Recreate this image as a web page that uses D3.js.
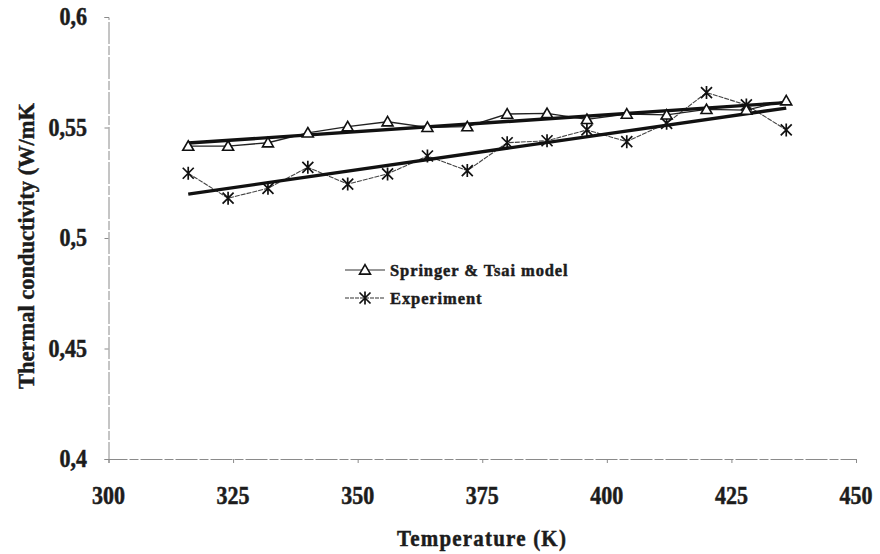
<!DOCTYPE html>
<html>
<head>
<meta charset="utf-8">
<script src="https://cdn.jsdelivr.net/npm/d3@7"></script>
<style>
  html, body { margin: 0; padding: 0; background: #fff; }
  svg { display: block; }
  text { font-family: "Liberation Serif", "Times New Roman", serif; font-weight: bold; fill: #1c1c1c;
         stroke: #1c1c1c; stroke-width: 0.45px; }
</style>
</head>
<body>
<svg id="chart" width="880" height="554"></svg>
<script>
// Temperature points (K)
const temperature = [316, 324, 332, 340, 348, 356, 364, 372, 380, 388, 396, 404, 412, 420, 428, 436];
// Springer & Tsai model prediction (W/mK)
const modelValues = [0.5416, 0.5416, 0.5431, 0.5476, 0.5504, 0.5526, 0.5501, 0.5504,
                     0.5561, 0.5564, 0.5537, 0.5561, 0.5557, 0.5582, 0.5579, 0.5621];
// Measured conductivity (W/mK)
const experimentValues = [0.5293, 0.5180, 0.5225, 0.5320, 0.5244, 0.5290, 0.5371, 0.5305,
                          0.5431, 0.5440, 0.5489, 0.5436, 0.5519, 0.5658, 0.5602, 0.5489];
const xTicks = [300, 325, 350, 375, 400, 425, 450];
const yTicks = [0.4, 0.45, 0.5, 0.55, 0.6];
const seriesNames = ["Springer & Tsai model", "Experiment"];

const svg = d3.select("#chart");
const x = d3.scaleLinear().domain([300, 450]).range([108.5, 856]);
const y = d3.scaleLinear().domain([0.4, 0.6]).range([459, 17]);
const fmt = v => String(v).replace(".", ",");

// axes
const axisColor = "#8a8a8a";
const gx = svg.append("g").attr("transform", `translate(0,${y(0.4)})`)
  .call(d3.axisBottom(x).tickValues(xTicks).tickSize(4).tickFormat(""));
const gy = svg.append("g").attr("transform", `translate(${x(300)},0)`)
  .call(d3.axisLeft(y).tickValues(yTicks).tickSize(4).tickFormat(""));
[gx, gy].forEach(g => {
  g.select(".domain").attr("stroke", axisColor).attr("stroke-width", 1).attr("stroke-dasharray", "22,2,9,2");
  g.selectAll(".tick line").attr("stroke", axisColor);
});

// tick labels (slightly tall serif figures)
svg.append("g").selectAll("text").data(xTicks).join("text")
  .attr("transform", d => `translate(${x(d)},504) scale(1,1.1)`)
  .attr("text-anchor", "middle").attr("font-size", 22)
  .text(d => d);
svg.append("g").selectAll("text").data(yTicks).join("text")
  .attr("transform", d => `translate(87,${y(d) + 8}) scale(1,1.1)`)
  .attr("text-anchor", "end").attr("font-size", 22)
  .text(d => fmt(d));

// axis titles
svg.append("text").attr("transform", "translate(482,546) scale(1,1.08)")
  .attr("text-anchor", "middle").attr("font-size", 21).attr("letter-spacing", 1.2)
  .text("Temperature (K)");
svg.append("text").attr("transform", "translate(34,246) rotate(-90)")
  .attr("text-anchor", "middle").attr("font-size", 22.5)
  .text("Thermal conductivity (W/mK");

// least-squares trend line
function trend(xs, ys) {
  const mx = d3.mean(xs), my = d3.mean(ys);
  const b = d3.sum(xs, (v, i) => (v - mx) * (ys[i] - my)) / d3.sum(xs, v => (v - mx) ** 2);
  const a = my - b * mx;
  const x0 = d3.min(xs), x1 = d3.max(xs);
  return [[x0, a + b * x0], [x1, a + b * x1]];
}

const line = d3.line().x(d => x(d[0])).y(d => y(d[1]));
const modelPts = temperature.map((t, i) => [t, modelValues[i]]);
const expPts = temperature.map((t, i) => [t, experimentValues[i]]);

// data lines
svg.append("path").datum(expPts).attr("d", line)
  .attr("fill", "none").attr("stroke", "#444").attr("stroke-width", 1.1).attr("stroke-dasharray", "5,1");
svg.append("path").datum(modelPts).attr("d", line)
  .attr("fill", "none").attr("stroke", "#222").attr("stroke-width", 1.3);

// trend lines
[trend(temperature, modelValues), trend(temperature, experimentValues)].forEach(seg => {
  svg.append("path").datum(seg).attr("d", line)
    .attr("fill", "none").attr("stroke", "#111").attr("stroke-width", 3.4).attr("stroke-linecap", "butt");
});

// markers
const tri = d3.symbol().type(d3.symbolTriangle).size(52);
function triangle(g, cx, cy) {
  g.append("path").attr("d", tri()).attr("transform", `translate(${cx},${cy + 1})`)
    .attr("fill", "#fff").attr("stroke", "#111").attr("stroke-width", 1.6);
}
function star(g, cx, cy) {
  const r = 5.5;
  const d = `M${cx - r},${cy - r}L${cx + r},${cy + r}M${cx - r},${cy + r}L${cx + r},${cy - r}M${cx},${cy - r - 1}L${cx},${cy + r + 1}`;
  g.append("path").attr("d", d).attr("stroke", "#111").attr("stroke-width", 1.7).attr("fill", "none");
}
const mk = svg.append("g");
expPts.forEach(p => star(mk, x(p[0]), y(p[1])));
modelPts.forEach(p => triangle(mk, x(p[0]), y(p[1])));

// legend
const lg = svg.append("g");
const rows = [{ y: 270, name: seriesNames[0], mark: triangle, dash: null },
              { y: 298, name: seriesNames[1], mark: star, dash: "4,1" }];
rows.forEach(r => {
  lg.append("line").attr("x1", 345).attr("x2", 385).attr("y1", r.y).attr("y2", r.y)
    .attr("stroke", "#333").attr("stroke-width", 1.1).attr("stroke-dasharray", r.dash);
  r.mark(lg, 365, r.y);
  lg.append("text").attr("x", 390).attr("y", r.y + 6)
    .attr("font-size", 16.5).attr("letter-spacing", 0.9).text(r.name);
});
</script>
</body>
</html>
